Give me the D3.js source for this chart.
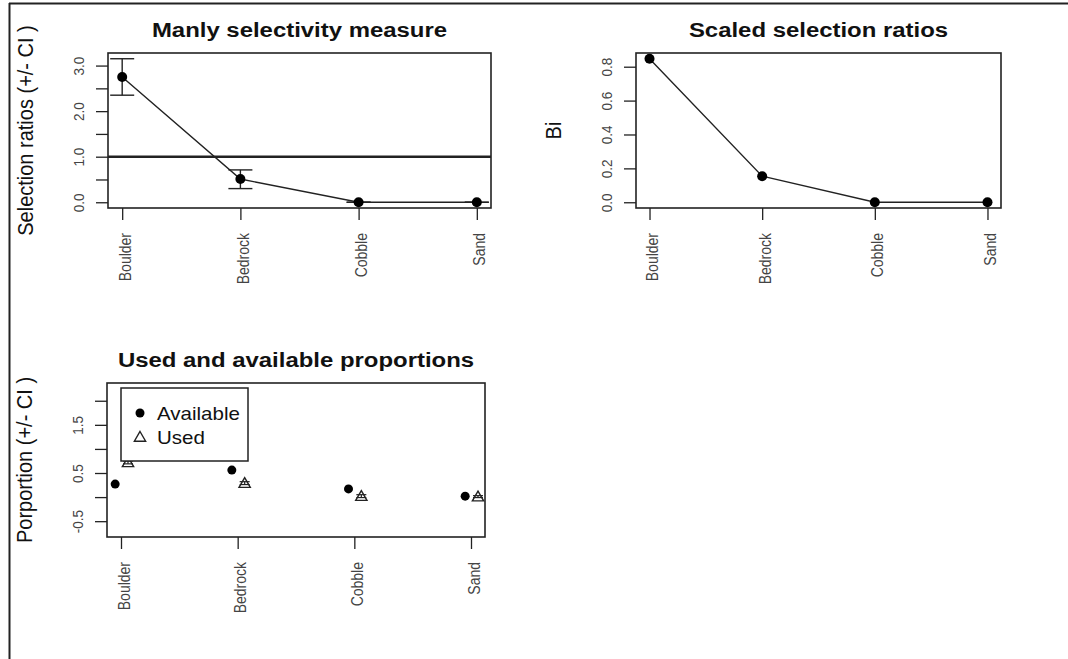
<!DOCTYPE html>
<html>
<head>
<meta charset="utf-8">
<script src="https://cdn.jsdelivr.net/npm/d3@7"></script>
<style>
  body { margin: 0; background: #fff; }
  svg { display: block; font-family: "Liberation Sans", Arial, sans-serif; }
</style>
</head>
<body>
<svg id="chart" width="1068" height="659"></svg>
<script>
// Habitat categories
var categories = ["Boulder", "Bedrock", "Cobble", "Sand"];

// Manly selection ratios with CI
var manlyRatio = [2.75, 0.51, 0, 0];
var manlyLower = [2.35, 0.30, 0, 0];
var manlyUpper = [3.15, 0.71, 0, 0];

// Scaled selection ratios
var scaledBi = [0.847, 0.154, 0, 0];

// Used / available proportions
var availProp = [0.27, 0.56, 0.17, 0.02];
var usedProp = [0.72, 0.29, 0.02, 0.01];
var usedLower = [0.69, 0.26, -0.01, -0.01];
var usedUpper = [0.75, 0.32, 0.05, 0.03];

// Axis ticks
var manlyTicks = [0, 0.5, 1, 1.5, 2, 2.5, 3];
var manlyTickLabels = ["0.0", "", "1.0", "", "2.0", "", "3.0"];
var scaledTicks = [0, 0.2, 0.4, 0.6, 0.8];
var scaledTickLabels = ["0.0", "0.2", "0.4", "0.6", "0.8"];
var propTicks = [-0.5, 0, 0.5, 1, 1.5, 2];
var propTickLabels = ["-0.5", "", "0.5", "", "1.5", ""];
var propLimits = [-0.71, 2.25];

var sx = 1.14;  // horizontal stretch of the original image
var ink = "#222";

var svg = d3.select("#chart");

// Outer frame (top and left edges only)
svg.append("line").attr("x1", 9).attr("x2", 1068).attr("y1", 3.5).attr("y2", 3.5)
    .attr("stroke", ink).attr("stroke-width", 2);
svg.append("line").attr("x1", 9.5).attr("x2", 9.5).attr("y1", 3).attr("y2", 659)
    .attr("stroke", ink).attr("stroke-width", 2);

// R style 4% padding
function pad(lo, hi) {
    var r = hi - lo;
    return [lo - 0.04 * r, hi + 0.04 * r];
}

// Build a panel: box, axes, titles. Returns scales and group
function panel(box, ylim, ticks, tickLabels, title, ylab) {
    var g = svg.append("g");
    var x = d3.scaleLinear().domain(pad(1, 4)).range([box.x0, box.x1]);
    var y = d3.scaleLinear().domain(ylim).range([box.y1, box.y0]);

    // Y axis
    var yAxis = d3.axisLeft(y).tickValues(ticks).tickSize(12).tickSizeOuter(0)
        .tickFormat(function(d, i) { return tickLabels[i]; });
    var ya = g.append("g").attr("transform", "translate(" + box.x0 + ",0)").call(yAxis);
    ya.select(".domain").remove();
    ya.selectAll("line").attr("stroke", ink).attr("stroke-width", 1.3);
    ya.selectAll("text")
        .attr("x", null).attr("dy", null)
        .attr("transform", "translate(-24,0) rotate(-90) scale(1," + sx + ")")
        .attr("text-anchor", "middle")
        .attr("fill", "#444").style("font-size", "13.5px").style("font-family", "Liberation Sans, Arial, sans-serif");

    // X axis
    var xAxis = d3.axisBottom(x).tickValues([1, 2, 3, 4]).tickSize(12).tickSizeOuter(0)
        .tickFormat(function(d) { return categories[d - 1]; });
    var xa = g.append("g").attr("transform", "translate(0," + box.y1 + ")").call(xAxis);
    xa.select(".domain").remove();
    xa.selectAll("line").attr("stroke", ink).attr("stroke-width", 1.3);
    xa.selectAll("text")
        .attr("y", null).attr("dy", null)
        .attr("transform", "translate(8,25) rotate(-90) scale(1," + sx + ")")
        .attr("text-anchor", "end")
        .attr("fill", "#444").style("font-size", "14px").style("font-family", "Liberation Sans, Arial, sans-serif");

    // Box
    g.append("rect")
        .attr("x", box.x0).attr("y", box.y0)
        .attr("width", box.x1 - box.x0).attr("height", box.y1 - box.y0)
        .attr("fill", "none").attr("stroke", ink).attr("stroke-width", 1.6);

    // Title
    var cx = (box.x0 + box.x1) / 2;
    g.append("text")
        .attr("transform", "translate(" + cx + "," + (box.y0 - 16) + ") scale(" + sx + ",1)")
        .attr("text-anchor", "middle")
        .attr("font-weight", "bold").attr("font-size", 21).attr("fill", "#111")
        .text(title);

    // Y label
    var cy = (box.y0 + box.y1) / 2;
    g.append("text")
        .attr("transform", "translate(" + (box.x0 - 75) + "," + cy + ") rotate(-90) scale(1," + sx + ")")
        .attr("text-anchor", "middle")
        .attr("font-size", 20).attr("fill", "#111")
        .text(ylab);

    return {g: g, x: x, y: y};
}

// Panel 1: Manly selectivity measure
var p1 = panel({x0: 108, x1: 491, y0: 53, y1: 208},
    pad(d3.min(manlyLower), d3.max(manlyUpper)),
    manlyTicks, manlyTickLabels,
    "Manly selectivity measure", "Selection ratios (+/- CI )");

// reference line at 1
p1.g.append("line")
    .attr("x1", p1.x.range()[0]).attr("x2", p1.x.range()[1])
    .attr("y1", p1.y(1)).attr("y2", p1.y(1))
    .attr("stroke", ink).attr("stroke-width", 2.6);

var line1 = d3.line()
    .x(function(d, i) { return p1.x(i + 1); })
    .y(function(d) { return p1.y(d); });
p1.g.append("path").datum(manlyRatio).attr("d", line1)
    .attr("fill", "none").attr("stroke", ink).attr("stroke-width", 1.4);

// error bars
manlyRatio.forEach(function(v, i) {
    var xx = p1.x(i + 1);
    p1.g.append("line").attr("x1", xx).attr("x2", xx)
        .attr("y1", p1.y(manlyLower[i])).attr("y2", p1.y(manlyUpper[i]))
        .attr("stroke", ink).attr("stroke-width", 1.4);
    [manlyLower[i], manlyUpper[i]].forEach(function(c) {
        p1.g.append("line").attr("x1", xx - 12).attr("x2", xx + 12)
            .attr("y1", p1.y(c)).attr("y2", p1.y(c))
            .attr("stroke", ink).attr("stroke-width", 1.4);
    });
});

p1.g.selectAll("circle.pt").data(manlyRatio).enter().append("circle")
    .attr("cx", function(d, i) { return p1.x(i + 1); })
    .attr("cy", function(d) { return p1.y(d); })
    .attr("r", 5).attr("fill", "#000");

// Panel 2: Scaled selection ratios
var p2 = panel({x0: 636, x1: 1001, y0: 53, y1: 208},
    pad(0, d3.max(scaledBi)),
    scaledTicks, scaledTickLabels,
    "Scaled selection ratios", "Bi");

var line2 = d3.line()
    .x(function(d, i) { return p2.x(i + 1); })
    .y(function(d) { return p2.y(d); });
p2.g.append("path").datum(scaledBi).attr("d", line2)
    .attr("fill", "none").attr("stroke", ink).attr("stroke-width", 1.4);
p2.g.selectAll("circle.pt").data(scaledBi).enter().append("circle")
    .attr("cx", function(d, i) { return p2.x(i + 1); })
    .attr("cy", function(d) { return p2.y(d); })
    .attr("r", 5).attr("fill", "#000");

// Panel 3: Used and available proportions
var p3 = panel({x0: 107, x1: 485, y0: 383, y1: 537},
    pad(propLimits[0], propLimits[1]),
    propTicks, propTickLabels,
    "Used and available proportions", "Porportion (+/- CI )");

var tri = d3.symbol().type(d3.symbolTriangle).size(55);

p3.g.selectAll("circle.av").data(availProp).enter().append("circle")
    .attr("cx", function(d, i) { return p3.x(i + 1 - 0.05); })
    .attr("cy", function(d) { return p3.y(d); })
    .attr("r", 4.5).attr("fill", "#000");

usedProp.forEach(function(v, i) {
    var xx = p3.x(i + 1 + 0.06);
    p3.g.append("line").attr("x1", xx).attr("x2", xx)
        .attr("y1", p3.y(usedLower[i])).attr("y2", p3.y(usedUpper[i]))
        .attr("stroke", ink).attr("stroke-width", 1.2);
    [usedLower[i], usedUpper[i]].forEach(function(c) {
        p3.g.append("line").attr("x1", xx - 5).attr("x2", xx + 5)
            .attr("y1", p3.y(c)).attr("y2", p3.y(c))
            .attr("stroke", ink).attr("stroke-width", 1.2);
    });
    p3.g.append("path").attr("d", tri)
        .attr("transform", "translate(" + xx + "," + (p3.y(v) + 1) + ")")
        .attr("fill", "none").attr("stroke", ink).attr("stroke-width", 1.4);
});

// Legend
var lg = p3.g.append("g");
lg.append("rect").attr("x", 121).attr("y", 388).attr("width", 127).attr("height", 73)
    .attr("fill", "#fff").attr("stroke", ink).attr("stroke-width", 1.5);
lg.append("circle").attr("cx", 140).attr("cy", 413).attr("r", 4.5).attr("fill", "#000");
lg.append("path").attr("d", tri).attr("transform", "translate(140,438)")
    .attr("fill", "none").attr("stroke", ink).attr("stroke-width", 1.4);
lg.append("text").attr("transform", "translate(157,420) scale(" + sx + ",1)")
    .attr("font-size", 18).attr("fill", "#111").text("Available");
lg.append("text").attr("transform", "translate(157,444) scale(" + sx + ",1)")
    .attr("font-size", 18).attr("fill", "#111").text("Used");
</script>
</body>
</html>
